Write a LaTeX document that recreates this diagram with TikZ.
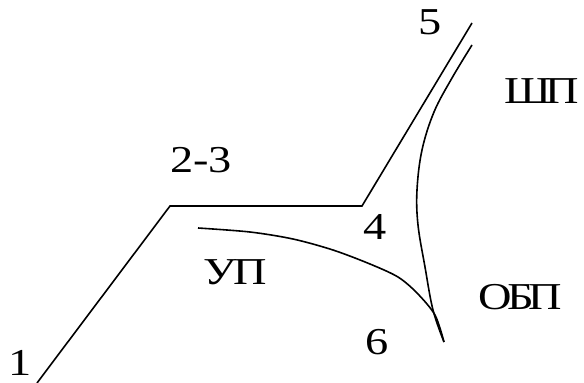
\documentclass[tikz,border=0pt]{standalone}
\usepackage{fontspec}
\setmainfont{Liberation Serif}
\begin{document}
\begin{tikzpicture}[x=1pt,y=-1pt,
  lbl/.style={font=\fontsize{38}{40}\selectfont, inner sep=0pt, xscale=1.22, transform shape},
  ln/.style={line width=1.6pt, line join=miter}]
\useasboundingbox (0,0) rectangle (584,383);
% main polyline
\coordinate (p1) at (37,383);
\coordinate (p23) at (170,206);
\coordinate (p4) at (362,206);
\coordinate (p5) at (472,23);
\draw[ln] (p1) -- (p23) -- (p4) -- (p5);
% UP curve
\draw[ln] plot[smooth, tension=0.5] coordinates {(198,228) (250,232) (293,239) (333,250) (370,264) (398,277) (417,293) (435,315) (444,342)};
% ShP / OBP curve
\draw[ln] plot[smooth, tension=0.6] coordinates {(472,45) (452,78) (434,112) (422,150) (417,190) (418,225) (425,267) (433,310) (444,342)};
% labels
\node[lbl] (l5) at (430,22) {5};
\node[lbl] (lsh) at (542,91) {Ш\kern-0.12emП};
\node[lbl] (l23) at (201,160) {2-3};
\node[lbl] (l4) at (375,227) {4};
\node[lbl] (lup) at (235,272) {У\kern-0.05emП};
\node[lbl] (lobp) at (520,297) {О\kern-0.1emБ\kern-0.12emП};
\node[lbl] (l1) at (20,363) {1};
\node[lbl] (l6) at (377,342) {6};
\end{tikzpicture}
\end{document}
